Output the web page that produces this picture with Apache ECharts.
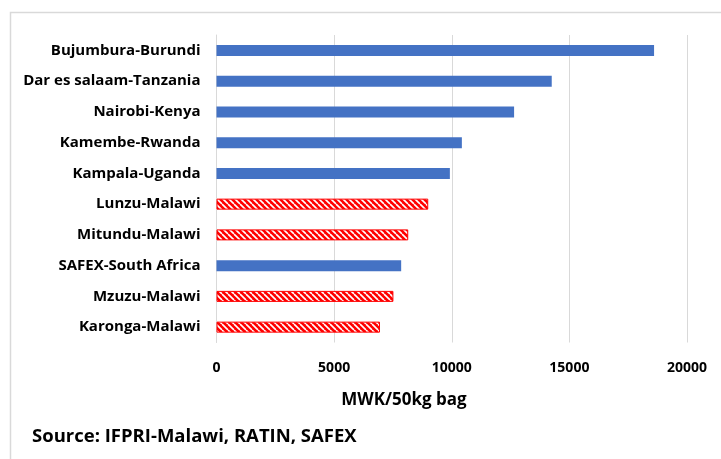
<!DOCTYPE html>
<html>
<head>
<meta charset="utf-8">
<script src="https://cdn.jsdelivr.net/npm/echarts@6/dist/echarts.min.js"></script>
<style>
html,body{margin:0;padding:0;background:#fff;}
#c{width:721px;height:459px;}
</style>
</head>
<body>
<div id="c"></div>
<script>
var categories = ['Bujumbura-Burundi','Dar es salaam-Tanzania','Nairobi-Kenya','Kamembe-Rwanda','Kampala-Uganda','Lunzu-Malawi','Mitundu-Malawi','SAFEX-South Africa','Mzuzu-Malawi','Karonga-Malawi'];
var values = [18600, 14250, 12650, 10430, 9920, 9000, 8150, 7850, 7520, 6950];
var isMalawi = [false, false, false, false, false, true, true, false, true, true];
var xTicks = [0, 5000, 10000, 15000, 20000];

var pc = document.createElement('canvas');
pc.width = 6; pc.height = 6;
var g = pc.getContext('2d');
g.fillStyle = '#ff0000';
g.fillRect(0,0,6,6);
g.strokeStyle = '#ffffff';
g.lineWidth = 1.6;
for (var k = -6; k <= 12; k += 6) {
  g.beginPath(); g.moveTo(k, 0); g.lineTo(k + 6, 6); g.stroke();
}

var font = '"Open Sans", Lato, sans-serif';
var chart = echarts.init(document.getElementById('c'));
var data = values.map(function(v, i){
  return isMalawi[i]
    ? {value: v, itemStyle: {color: {image: pc, repeat: 'repeat'}, borderColor: '#ff0000', borderWidth: 1}}
    : {value: v, itemStyle: {color: '#4472c4'}};
});
chart.setOption({
  animation: false,
  grid: {left: 216.5, right: 34, top: 35, bottom: 116.5, containLabel: false},
  xAxis: {
    type: 'value', min: xTicks[0], max: xTicks[xTicks.length-1], interval: 5000,
    axisLine: {show: false}, axisTick: {show: false},
    splitLine: {lineStyle: {color: '#d9d9d9', width: 1}},
    axisLabel: {color: '#000', fontFamily: font, fontWeight: 'bold', fontSize: 14, margin: 19,
      formatter: function(v){ return String(v); }}
  },
  yAxis: {
    type: 'category', data: categories, inverse: true,
    axisLine: {lineStyle: {color: '#d9d9d9'}}, axisTick: {show: false},
    axisLabel: {color: '#000', fontFamily: font, fontWeight: 'bold', fontSize: 15, margin: 16}
  },
  series: [{type: 'bar', data: data, barWidth: 11}],
  graphic: [
    {type: 'rect', shape: {x: 10.5, y: 12.5, width: 800, height: 600}, style: {fill: 'none', stroke: '#d9d9d9', lineWidth: 1.5}},
    {type: 'text', x: 404, y: 400, style: {text: 'MWK/50kg bag', font: 'bold 17px ' + font, fill: '#000', textAlign: 'center', textVerticalAlign: 'middle'}},
    {type: 'text', x: 32, y: 437, style: {text: 'Source: IFPRI-Malawi, RATIN, SAFEX', font: 'bold 18.5px ' + font, fill: '#000', textAlign: 'left', textVerticalAlign: 'middle'}}
  ]
});
</script>
</body>
</html>
